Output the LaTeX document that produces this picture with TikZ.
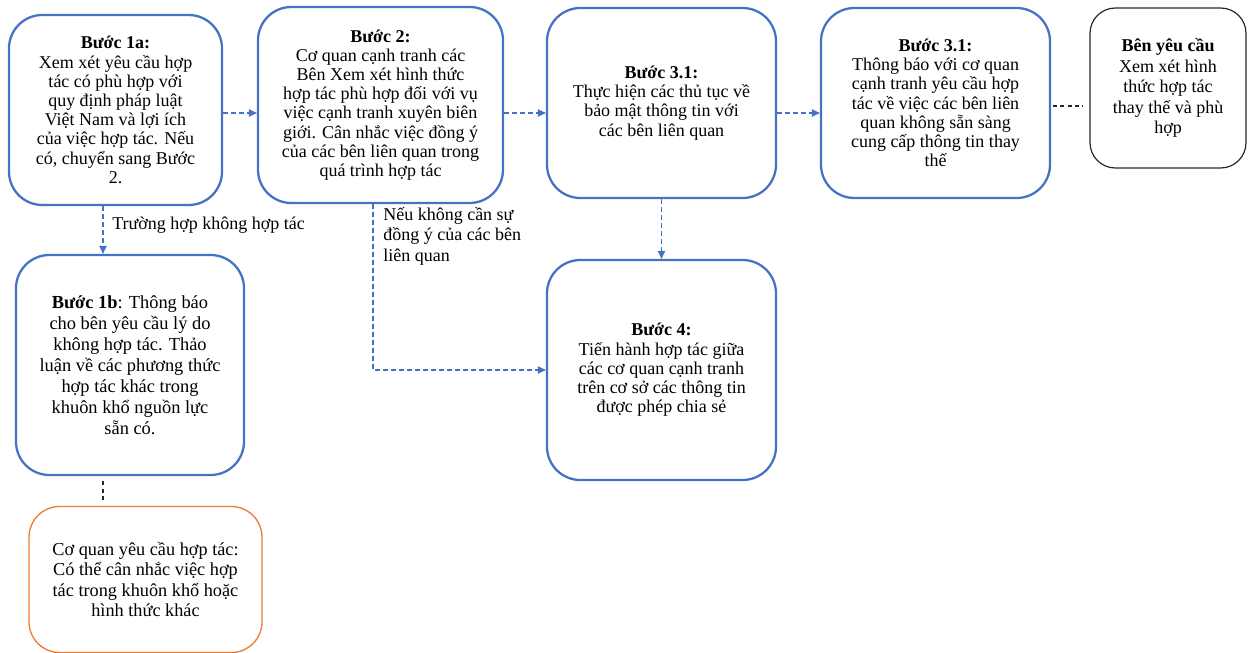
\documentclass[tikz,border=0pt]{standalone}
\usepackage{fontspec}
\setmainfont{Liberation Serif}
\usetikzlibrary{arrows.meta}
\definecolor{stepblue}{RGB}{68,114,196}
\definecolor{steporange}{RGB}{237,125,49}
\begin{document}
\begin{tikzpicture}[x=0.75pt,y=-0.75pt,
  stepbox/.style={rectangle,rounded corners=25pt,draw=stepblue,line width=1.7pt,fill=white,align=center,font=\fontsize{13.5}{14.4}\selectfont},
  sidebox/.style={rectangle,rounded corners=19pt,draw=black!85,line width=0.9pt,align=center,font=\fontsize{13.5}{15.4}\selectfont},
  orangebox/.style={rectangle,rounded corners=23pt,draw=steporange,line width=1pt,align=center,font=\fontsize{13.7}{15.3}\selectfont},
  lbl/.style={inner sep=0pt,font=\fontsize{13.5}{15.4}\selectfont},
  flow/.style={draw=stepblue,line width=0.8pt,dash pattern=on 3.5pt off 2.5pt,-{Triangle[length=6pt,width=5.5pt]}},
  link/.style={draw=black!85,line width=0.8pt,dash pattern=on 3pt off 2.5pt}]

  \useasboundingbox (0,0) rectangle (1253,653);

  \node[stepbox,minimum width=159.75pt,minimum height=142.5pt] (b1a) at (115.5,110) {\textbf{Bước 1a:}\\Xem xét yêu cầu hợp\\tác có phù hợp với\\quy định pháp luật\\Việt Nam và lợi ích\\của việc hợp tác. Nếu\\có, chuyển sang Bước\\2.};
  \node[stepbox,minimum width=183.75pt,minimum height=147pt] (b2) at (380.5,105) {\textbf{Bước 2:}\\Cơ quan cạnh tranh các\\Bên Xem xét hình thức\\hợp tác phù hợp đối với vụ\\việc cạnh tranh xuyên biên\\giới. Cân nhắc việc đồng ý\\của các bên liên quan trong\\quá trình hợp tác};
  \node[stepbox,minimum width=171.75pt,minimum height=142.5pt] (b31) at (661.5,103) {\textbf{Bước 3.1:}\\Thực hiện các thủ tục về\\bảo mật thông tin với\\các bên liên quan};
  \node[stepbox,minimum width=171.75pt,minimum height=142.5pt] (b32) at (935.5,103) {\textbf{Bước 3.1:}\\Thông báo với cơ quan\\cạnh tranh yêu cầu hợp\\tác về việc các bên liên\\quan không sẵn sàng\\cung cấp thông tin thay\\thế};
  \node[sidebox,minimum width=117pt,minimum height=120pt] (ben) at (1168,88) {\textbf{Bên yêu cầu}\\Xem xét hình\\thức hợp tác\\thay thế và phù\\hợp};
  \node[stepbox,minimum width=171pt,minimum height=165pt,font=\fontsize{13.8}{15.7}\selectfont] (b1b) at (130,365) {\textbf{Bước 1b}: Thông báo\\cho bên yêu cầu lý do\\không hợp tác. Thảo\\luận về các phương thức\\hợp tác khác trong\\khuôn khổ nguồn lực\\sẵn có.};
  \node[stepbox,minimum width=171.75pt,minimum height=165pt] (b4) at (661.5,370) {\textbf{Bước 4:}\\Tiến hành hợp tác giữa\\các cơ quan cạnh tranh\\trên cơ sở các thông tin\\được phép chia sẻ};
  \node[orangebox,minimum width=174.75pt,minimum height=109.5pt] (cq) at (145.5,579.5) {Cơ quan yêu cầu hợp tác:\\Có thể cân nhắc việc hợp\\tác trong khuôn khổ hoặc\\hình thức khác};

  \node[lbl,anchor=base west] (l1) at (112,229) {Trường hợp không hợp tác};
  \node[lbl,anchor=north west,align=left] (l2) at (383,207) {Nếu không cần sự\\đồng ý của các bên\\liên quan};

  \coordinate (h1) at (0,113);
  \coordinate (h2) at (0,106);
  \coordinate (v1) at (103,0);
  \coordinate (v2) at (373,0);

  \draw[flow] (b1a.east |- h1) -- (b2.west |- h1);
  \draw[flow] (b2.east |- h1) -- (b31.west |- h1);
  \draw[flow] (b31.east |- h1) -- (b32.west |- h1);
  \draw[link,shorten <=1.5pt,shorten >=5pt] (b32.east |- h2) -- (ben.west |- h2);
  \draw[flow] (b1a.south -| v1) -- (b1b.north -| v1);
  \draw[flow] (b2.south -| v2) |- (b4.west);
  \draw[flow] (b31.south) -- (b4.north);
  \draw[link,shorten <=4pt,shorten >=3pt] (b1b.south -| v1) -- (cq.north -| v1);

\end{tikzpicture}
\end{document}
